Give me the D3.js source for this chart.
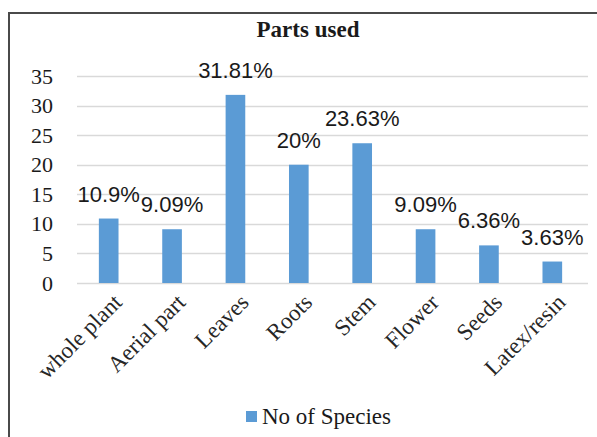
<!DOCTYPE html>
<html>
<head>
<meta charset="utf-8">
<script src="https://cdn.jsdelivr.net/npm/d3@7"></script>
<style>
  html, body { margin: 0; padding: 0; background: #fff; }
  svg { display: block; }
</style>
</head>
<body>
<svg id="chart" width="597" height="437"></svg>
<script>
// Plant parts used and number of species
const categories = ["whole plant", "Aerial part", "Leaves", "Roots", "Stem", "Flower", "Seeds", "Latex/resin"];
const speciesValues = [10.9, 9.09, 31.81, 20, 23.63, 9.09, 6.36, 3.63];
const yTicks = [0, 5, 10, 15, 20, 25, 30, 35];
const chartTitle = "Parts used";
const seriesName = "No of Species";

const svg = d3.select("#chart");
const serif = "'Liberation Serif', 'Times New Roman', serif";
const sans = "'Liberation Sans', Arial, sans-serif";
const barColor = "#5b9bd5";
const textColor = "#1a1a1a";

// outer frame (continues past the right and bottom edges)
svg.append("rect")
  .attr("x", 9).attr("y", 13)
  .attr("width", 700).attr("height", 600)
  .attr("fill", "none")
  .attr("stroke", "#4a4a4a")
  .attr("stroke-width", 2);

const plotLeft = 77, plotRight = 588;
const y = d3.scaleLinear().domain([0, 35]).range([283, 76]);
const x = d3.scaleBand().domain(categories).range([77, 584])
  .paddingInner(0.69).paddingOuter(0.345);

// horizontal gridlines
svg.append("g")
  .selectAll("line")
  .data(yTicks)
  .join("line")
  .attr("x1", plotLeft).attr("x2", plotRight)
  .attr("y1", d => Math.round(y(d)) + 0.5)
  .attr("y2", d => Math.round(y(d)) + 0.5)
  .attr("stroke", "#d9d9d9")
  .attr("stroke-width", 1.3);

// y axis labels
const yAxis = d3.axisLeft(y).tickValues(yTicks).tickSize(0).tickPadding(0);
const yg = svg.append("g").attr("transform", "translate(53,0)").call(yAxis);
yg.select(".domain").remove();
yg.selectAll("text")
  .attr("font-family", serif)
  .attr("font-size", 22)
  .attr("fill", textColor);

// bars
svg.append("g")
  .selectAll("rect")
  .data(categories)
  .join("rect")
  .attr("x", d => x(d))
  .attr("width", x.bandwidth())
  .attr("y", (d, i) => y(speciesValues[i]))
  .attr("height", (d, i) => y(0) - y(speciesValues[i]))
  .attr("fill", barColor);

// value labels
svg.append("g")
  .selectAll("text")
  .data(categories)
  .join("text")
  .attr("x", d => x(d) + x.bandwidth() / 2)
  .attr("y", (d, i) => y(speciesValues[i]) - 17)
  .attr("text-anchor", "middle")
  .attr("font-family", sans)
  .attr("font-size", 22)
  .attr("fill", textColor)
  .text((d, i) => speciesValues[i] + "%");

// category labels on the x axis, rotated
const xAxis = d3.axisBottom(x).tickSize(0).tickPadding(0);
const xg = svg.append("g").attr("transform", `translate(0,${y(0)})`).call(xAxis);
xg.select(".domain").remove();
xg.selectAll("text")
  .attr("font-family", serif)
  .attr("font-size", 23)
  .attr("fill", "#262626")
  .attr("text-anchor", "end")
  .attr("y", 0)
  .attr("dy", "0.35em")
  .attr("transform", "translate(9,15) rotate(-45)");

// title
svg.append("text")
  .attr("x", 308).attr("y", 37)
  .attr("text-anchor", "middle")
  .attr("font-family", serif)
  .attr("font-weight", "bold")
  .attr("font-size", 23)
  .attr("fill", textColor)
  .text(chartTitle);

// legend
const legend = svg.append("g");
legend.append("rect")
  .attr("x", 246).attr("y", 411)
  .attr("width", 11).attr("height", 11)
  .attr("fill", barColor);
legend.append("text")
  .attr("x", 262).attr("y", 424)
  .attr("font-family", serif)
  .attr("font-size", 23)
  .attr("fill", textColor)
  .text(seriesName);
</script>
</body>
</html>
